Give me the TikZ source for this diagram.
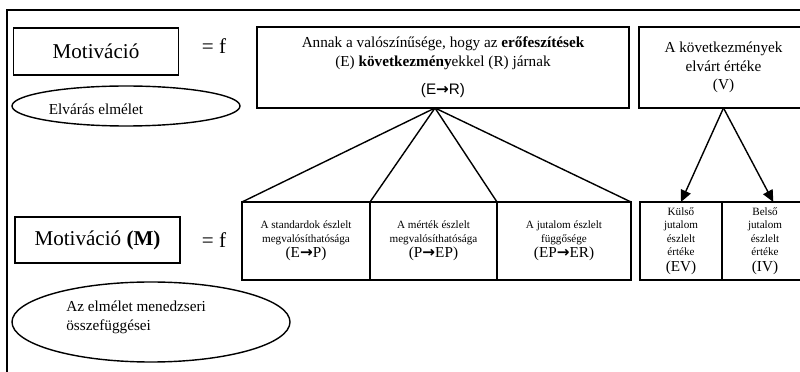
\documentclass[tikz,border=0pt]{standalone}
\usepackage{fontspec}
\setmainfont{Liberation Serif}
\setsansfont{Liberation Sans}
\newfontfamily\arrowfont{DejaVu Sans}
\newcommand{\impl}{{\arrowfont\bfseries →}}
\newcommand{\pairfont}{\fontsize{13}{15}\selectfont}
\usetikzlibrary{arrows.meta,shapes.geometric}
\tikzset{every picture/.style={line width=0.75pt}}

\begin{document}
\begin{tikzpicture}[x=0.03cm, y=-0.03cm,
    box/.style={draw, rectangle, inner sep=0pt, outer sep=0pt, line width=1.2pt, align=center},
    oval/.style={draw, ellipse, inner sep=0pt, line width=1.2pt},
    big/.style={font=\fontsize{18}{21}\selectfont},
    mid/.style={font=\fontsize{13}{16}\selectfont},
    small/.style={font=\fontsize{9.5}{11.5}\selectfont}]
    \useasboundingbox (0,0) rectangle (800,372);

    % Frame
    \draw[line width=1pt] (7,10) rectangle (830,400);

    % Upper row
    \node[box, big, minimum width=4.95cm, minimum height=1.41cm] (mot) at (96,51.5) {Motiváció};
    \node[big] (eqf) at (214,46) {= f};
    \node[box, mid, minimum width=11.16cm, minimum height=2.43cm] (er) at (443,67.5)
        {Annak a valószínűsége, hogy az \textbf{erőfeszítések}\\
         (E) \textbf{következmény}ekkel (R) járnak\\[8pt]
         \textsf{(E\impl R)}};
    \node[box, mid, minimum width=5.07cm, minimum height=2.43cm] (val) at (723.5,67.5)
        {A következmények\\ elvárt értéke\\ (V)};
    \node[oval, minimum width=6.84cm, minimum height=1.2cm] (elv) at (126,106) {};
    \node[mid] (elvt) at (96,109) {Elvárás elmélet};

    % Lower row
    \node[box, big, minimum width=4.95cm, minimum height=1.38cm] (motm) at (97.5,240) {Motiváció \textbf{(M)}};
    \node[big] (eqf2) at (214,240) {= f};
    \node[box, small, minimum width=3.84cm, minimum height=2.34cm] (std) at (306,241)
        {A standardok észlelt\\ megvalósíthatósága\\[2pt] {\pairfont (E\impl P)}};
    \node[box, small, minimum width=3.81cm, minimum height=2.34cm] (mer) at (433.5,241)
        {A mérték észlelt\\ megvalósíthatósága\\[2pt] {\pairfont (P\impl EP)}};
    \node[box, small, minimum width=4.02cm, minimum height=2.34cm] (jut) at (564,241)
        {A jutalom észlelt\\ függősége\\[2pt] {\pairfont (EP\impl ER)}};
    \node[box, small, minimum width=2.46cm, minimum height=2.34cm] (ev) at (681,241)
        {Külső\\ jutalom\\ észlelt\\ értéke\\[2pt] {\pairfont (EV)}};
    \node[box, small, minimum width=2.58cm, minimum height=2.34cm] (iv) at (765,241)
        {Belső\\ jutalom\\ észlelt\\ értéke\\[2pt] {\pairfont (IV)}};
    \node[oval, minimum width=8.34cm, minimum height=2.4cm] (men) at (151,322) {};
    \node[mid, anchor=west, align=left] (ment) at (62,317) {Az elmélet menedzseri\\ összefüggései};

    % Connectors
    \coordinate (apex) at (435,108);
    \draw[line width=1.2pt] (apex) -- (std.north west);
    \draw[line width=1.2pt] (apex) -- (mer.north west);
    \draw[line width=1.2pt] (apex) -- (jut.north west);
    \draw[line width=1.2pt] (apex) -- (jut.north east);
    \draw[line width=1.2pt, -{Triangle[length=10pt,width=9pt]}] (val.south) -- (ev.north);
    \draw[line width=1.2pt, -{Triangle[length=10pt,width=9pt]}] (val.south) -- ([xshift=0.25cm]iv.north);
\end{tikzpicture}
\end{document}
